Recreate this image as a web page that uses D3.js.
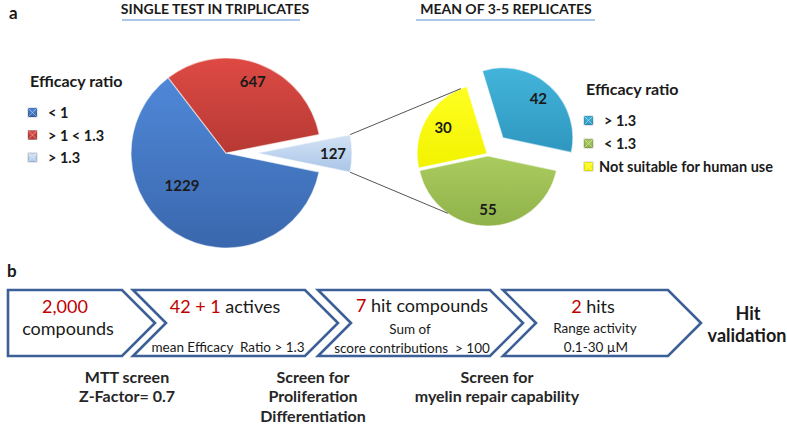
<!DOCTYPE html>
<html>
<head>
<meta charset="utf-8">
<script src="https://cdn.jsdelivr.net/npm/d3@7/dist/d3.min.js"></script>
<style>
  body { margin: 0; background: #fff; }
  svg text { font-family: Lato, "Open Sans", sans-serif; fill: #1a1a1a; }
</style>
</head>
<body>
<div id="chart"></div>
<script>
// ---- data ----
let leftCats = ["< 1", "> 1 < 1.3", "> 1.3"];
let leftVals = [1229, 647, 127];
let rightCats = ["> 1.3", "< 1.3", "Not suitable for human use"];
let rightVals = [42, 55, 30];

// flow diagram texts (red part, black part)
let stepHead = [["2,000", ""], ["42 + 1", " actives"], ["7", " hit compounds"], ["2", " hits"]];
let screenText = [["MTT screen", "Z-Factor= 0.7"], ["Screen for", "Proliferation", "Differentiation"], ["Screen for", "myelin repair capability"]];

let W = 787, H = 424;
let svg = d3.select("#chart").append("svg").attr("width", W).attr("height", H);
let defs = svg.append("defs");

function vgrad(id, c1, c2) {
  let g = defs.append("linearGradient").attr("id", id)
    .attr("x1", 0).attr("y1", 0).attr("x2", 0).attr("y2", 1);
  g.append("stop").attr("offset", "0%").attr("stop-color", c1);
  g.append("stop").attr("offset", "100%").attr("stop-color", c2);
}
vgrad("gBlue", "#4f88d8", "#3a67ad");
vgrad("gRed", "#de4a44", "#b73934");
vgrad("gLight", "#d4e3f5", "#a9c5e8");
vgrad("gTeal", "#43b4da", "#2f97bf");
vgrad("gGreen", "#aacb5e", "#8fb24a");
vgrad("gYellow", "#ffff22", "#f2f200");

let leftColor = d3.scaleOrdinal().domain(leftCats).range(["url(#gBlue)", "url(#gRed)", "url(#gLight)"]);
let rightColor = d3.scaleOrdinal().domain(rightCats).range(["url(#gTeal)", "url(#gGreen)", "url(#gYellow)"]);

// ---- headers ----
svg.append("text").attr("x", 9).attr("y", 19).style("font-size", "17px").style("font-weight", "bold").text("a");
svg.append("text").attr("x", 7).attr("y", 277).style("font-size", "17px").style("font-weight", "bold").text("b");

let titles = [["SINGLE TEST IN TRIPLICATES", 215, 122, 300], ["MEAN OF 3-5 REPLICATES", 506, 416, 595]];
titles.forEach(t => {
  svg.append("text").attr("x", t[1]).attr("y", 14).attr("text-anchor", "middle")
    .style("font-size", "14px").style("font-weight", "bold").text(t[0]);
  svg.append("line").attr("x1", t[2]).attr("x2", t[3]).attr("y1", 20).attr("y2", 20)
    .attr("stroke", "#5b8fd6").attr("stroke-width", 1.2);
});

// ---- pies ----
let deg = Math.PI / 180;

function drawPie(cx, cy, r, cats, vals, color, start, explode, labelPos) {
  let pie = d3.pie().sort(null).value(d => d.v)
    .startAngle(start * deg).endAngle(start * deg + 2 * Math.PI);
  let arcs = pie(cats.map((c, i) => ({ c: c, v: vals[i], i: i })));
  let arc = d3.arc().innerRadius(0).outerRadius(r);
  let g = svg.append("g").attr("transform", `translate(${cx},${cy})`);
  arcs.forEach(a => {
    let m = (a.startAngle + a.endAngle) / 2;
    a.dx = Math.sin(m) * explode[a.index];
    a.dy = -Math.cos(m) * explode[a.index];
  });
  g.selectAll("path").data(arcs).join("path")
    .attr("transform", d => `translate(${d.dx},${d.dy})`)
    .attr("d", arc)
    .attr("fill", d => color(d.data.c))
    .attr("stroke", "rgba(255,255,255,0.55)")
    .attr("stroke-width", 1.2);
  g.selectAll("text").data(arcs).join("text")
    .attr("x", d => {
      let lp = labelPos[d.index];
      let a = (d.startAngle + d.endAngle) / 2 + lp[1] * deg;
      return d.dx + Math.sin(a) * r * lp[0];
    })
    .attr("y", d => {
      let lp = labelPos[d.index];
      let a = (d.startAngle + d.endAngle) / 2 + lp[1] * deg;
      return d.dy - Math.cos(a) * r * lp[0];
    })
    .attr("dy", "0.35em").attr("text-anchor", "middle")
    .style("font-size", "15px").style("font-weight", "bold")
    .text(d => d.data.v);
  return { arcs: arcs, r: r, cx: cx, cy: cy };
}

let L = drawPie(226, 153, 95, leftCats, leftVals, leftColor, 101.6, [0, 0, 31],
  [[0.58, 21], [0.8, 0], [0.8, 0]]);
let R = drawPie(488, 154, 70, rightCats, rightVals, rightColor, -17, [22, 2, 1],
  [[0.75, 0], [0.77, 0], [0.73, 0]]);

// connector lines from the exploded slice to the second pie
function edgePt(P, a, ang) {
  return [P.cx + a.dx + Math.sin(ang) * P.r, P.cy + a.dy - Math.cos(ang) * P.r];
}
let lightArc = L.arcs[2];
let p1 = edgePt(L, lightArc, lightArc.startAngle);
let p2 = edgePt(L, lightArc, lightArc.endAngle);
let q1 = edgePt(R, R.arcs[2], R.arcs[2].endAngle - 5 * deg);
let q2 = edgePt(R, R.arcs[1], R.arcs[1].startAngle + 113 * deg);
svg.append("line").attr("x1", p1[0]).attr("y1", p1[1]).attr("x2", q1[0]).attr("y2", q1[1])
  .attr("stroke", "#555").attr("stroke-width", 1);
svg.append("line").attr("x1", p2[0]).attr("y1", p2[1]).attr("x2", q2[0]).attr("y2", q2[1])
  .attr("stroke", "#555").attr("stroke-width", 1);

// ---- legends ----
function legend(x, y, cats, color, step, textX) {
  let g = svg.append("g").attr("transform", `translate(${x},${y})`);
  g.append("text").attr("x", 2).attr("y", 0).style("font-size", "16px").style("font-weight", "bold")
    .text("Efficacy ratio");
  let items = g.selectAll("g.it").data(cats).join("g").attr("class", "it")
    .attr("transform", (d, i) => `translate(0,${26 + i * step})`);
  items.append("rect").attr("x", 0).attr("y", -5).attr("width", 9).attr("height", 9)
    .attr("fill", d => color(d)).attr("stroke", "rgba(0,0,0,0.25)").attr("stroke-width", 0.8);
  items.append("path").attr("d", "M0,-5L4.5,-0.5L9,-5M0,4L4.5,-0.5L9,4")
    .attr("stroke", "rgba(255,255,255,0.5)").attr("stroke-width", 0.8).attr("fill", "none");
  items.append("text").attr("x", d => textX(d)).attr("y", 0).attr("dy", "0.35em")
    .style("font-size", "14.5px").style("font-weight", "bold").text(d => d);
}
legend(28, 87, leftCats, leftColor, 22.5, () => 20);
legend(584, 95, rightCats, rightColor, 23, d => d.length > 6 ? 15 : 20);

// ---- flow diagram ----
let yTop = 290, yBot = 356, yMid = (yTop + yBot) / 2, dep = 33;
let boxes = [[8, 122, false], [133, 305, true], [318, 490, true], [503, 668, true]];
let flow = svg.append("g");
flow.selectAll("path").data(boxes).join("path")
  .attr("d", b => {
    let p = `M${b[0]},${yTop}L${b[1]},${yTop}L${b[1] + dep},${yMid}L${b[1]},${yBot}L${b[0]},${yBot}`;
    p += b[2] ? `L${b[0] + dep},${yMid}Z` : "Z";
    return p;
  })
  .attr("fill", "#fff").attr("stroke", "#3b5f96").attr("stroke-width", 2.6).attr("stroke-linejoin", "miter");

let headX = [65, 225, 422, 593];
let headY = [307, 307, 306, 307];
flow.selectAll("text.head").data(stepHead).join("text").attr("class", "head")
  .attr("x", (d, i) => headX[i]).attr("y", (d, i) => headY[i]).attr("dy", "0.35em")
  .attr("text-anchor", "middle").style("font-size", "18px")
  .each(function (d) {
    let t = d3.select(this);
    t.append("tspan").style("fill", "#c00000").text(d[0]);
    t.append("tspan").text(d[1]);
  });

// sub lines
let subs = [
  [68, 329, "compounds", 18],
  [228, 347, "mean Efficacy  Ratio > 1.3", 13.5],
  [410, 329, "Sum of", 13.5],
  [412, 348, "score contributions  > 100", 13.5],
  [595, 328, "Range activity", 13.5],
  [596, 347, "0.1-30 µM", 13.5],
  [748, 314, "Hit", 18],
  [747, 336, "validation", 18]
];
flow.selectAll("text.sub").data(subs).join("text").attr("class", "sub")
  .attr("x", d => d[0]).attr("y", d => d[1]).attr("dy", "0.35em").attr("text-anchor", "middle")
  .style("font-size", d => d[3] + "px").style("font-weight", (d, i) => i >= 6 ? "bold" : "normal")
  .style("white-space", "pre").text(d => d[2]);

let screenX = [127, 313, 497];
screenText.forEach((lines, i) => {
  lines.forEach((s, j) => {
    svg.append("text").attr("x", screenX[i]).attr("y", 377 + j * 19.5).attr("dy", "0.35em")
      .attr("text-anchor", "middle").style("font-size", "16px").style("font-weight", "bold")
      .style("fill", "#262626").text(s);
  });
});
</script>
</body>
</html>
